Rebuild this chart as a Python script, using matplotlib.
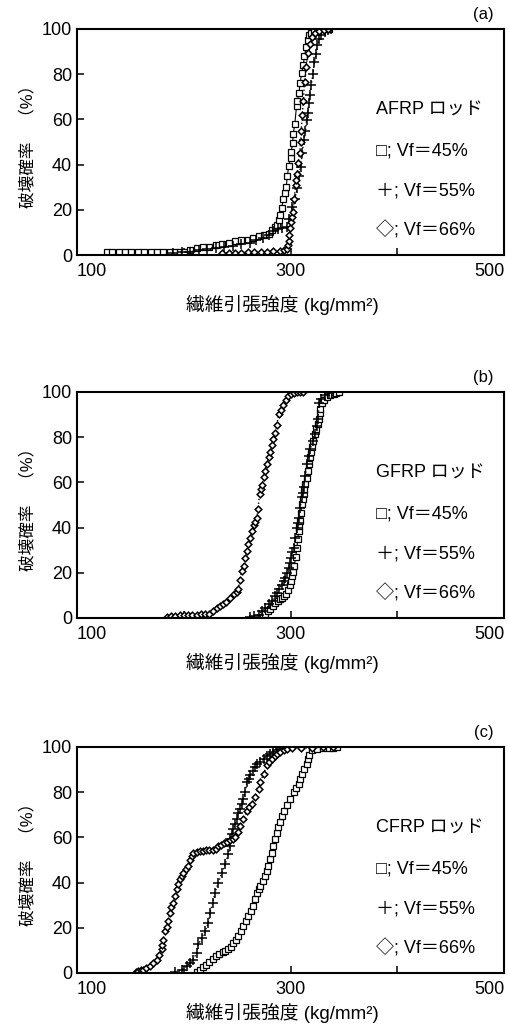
import matplotlib
matplotlib.use('Agg')
import matplotlib.pyplot as plt

plt.rcParams['font.family'] = ['Liberation Sans', 'Noto Sans CJK JP']

# panel (a) AFRP
a45_x = [128, 133, 139, 145, 151, 157, 163, 169, 175, 181, 187, 192, 196, 200,
         206, 212, 218, 224, 230, 236, 242, 248, 254, 260, 265, 270, 275, 280,
         283, 285, 287.6, 289, 290, 292, 293, 294.7, 296, 297, 298.4, 300, 300.6,
         302, 302.5, 304, 305.6, 306.5, 307.8, 309, 310.3, 312, 313, 314.7, 316,
         317, 319, 322, 326, 330, 336]
a45_y = [1.5, 1.5, 1.5, 1.5, 1.5, 1.5, 1.5, 1.5, 1.5, 1.5, 1.5, 1.5, 1.5, 1.5,
         2.2, 3.0, 3.5, 3.7, 4.5, 5.0, 5.2, 6.0, 6.5, 6.8, 7.5, 8.2, 8.8, 9.5,
         11.0, 12.5, 13.3, 15.5, 17.7, 21, 25, 27.3, 30.2, 35, 39.5, 43, 45.7,
         49.5, 53.4, 58, 65.9, 68, 71.8, 76, 80.4, 84, 88, 92.2, 95,
         97.3, 98.3, 99, 99.5, 99.8, 100]
a55_x = [190, 198, 206, 214, 222, 230, 238, 246, 254, 262, 268, 274, 280, 284,
         288, 292, 296.9, 299, 301.6, 304, 306.3, 308, 309.4, 311, 312.4, 314,
         315, 316, 317.1, 318, 319.3, 321, 322.4, 324, 325, 327, 329, 332, 335, 338]
a55_y = [1.0, 1.2, 1.5, 2.0, 2.5, 3.0, 3.5, 4.0, 4.8, 5.5, 6.5, 7.5, 9, 10.5,
         11.5, 12, 12.5, 16, 21.4, 25, 29.5, 35, 39.1, 45, 50.9, 55,
         59.7, 63, 67.1, 71, 75.2, 80, 85.5, 89, 92.9, 95.5, 97.5, 98.8, 99.5, 100]
a66_x = [236, 242, 248, 254, 260, 266, 272, 278, 284, 290, 294, 297, 297.5, 298.4,
         299, 299.4, 300.6, 301, 302.5, 303.5, 304.7, 305.5, 306.3, 307, 308.7,
         309.5, 310, 311, 312, 313.1, 314.5, 316.2, 318, 320, 323, 327, 331, 335]
a66_y = [0.8, 1.0, 1.0, 1.1, 1.2, 1.3, 1.4, 1.5, 1.6, 1.8, 2.0, 2.8, 4.4, 6,
         9, 12, 14.8, 17, 19.2, 25, 31, 33, 36, 40.6, 45,
         50, 55, 62, 68, 76.7, 83, 89.2, 93.5, 96.5, 98.2, 99, 99.6, 100]

# panel (b) GFRP
b45_x = [274, 276.3, 278.5, 281, 283.5, 285.7, 288, 290, 292, 294, 296, 297.5,
         299.1, 300.2, 301.3, 302.5, 303.5, 304.8, 306, 306.8, 307.5, 308, 308.5,
         309.6, 310.7, 311.5, 312.2, 313, 313.8, 315, 316, 317, 317.9, 319, 320.1,
         321.5, 323, 324.1, 325.3, 326.3, 327.2, 327.9, 329.5, 331, 334.2, 337,
         340.4, 343, 345]
b45_y = [0.5, 1.8, 3.0, 4.1, 5.5, 6.7, 7.5, 8.2, 8.9, 9.8, 10.7, 12.5,
         14.8, 16.5, 18.5, 20.5, 22.9, 27, 31.1, 35, 38.5, 40.5, 42.9,
         46.5, 50.4, 52.5, 54.8, 57, 59.2, 62, 65.2, 68, 71.1, 73.5, 75.6,
         78.5, 81.5, 83.7, 86, 88.1, 90.5, 92.6, 95, 96.5, 97.8, 98.6,
         99.3, 99.7, 100]
b55_x = [262, 266, 270, 273, 276.3, 279.5, 282.5, 285, 287.2, 289.5, 292, 293.5,
         295, 296.5, 298.1, 299.2, 300.3, 301.5, 302.8, 304.4, 306, 306.8, 307.5,
         309, 310.7, 311.5, 312.2, 313.8, 315.4, 316.9, 318.5, 320.8, 323.2, 324.5,
         325.5, 327, 329, 332, 336, 340]
b55_y = [0.5, 1.0, 1.5, 3.0, 4.4, 6.0, 7.4, 9.5, 11.1, 13, 14.8, 16.3,
         17.8, 20, 22.2, 24.5, 26.7, 29, 31.1, 35.5, 40, 42.2, 44.4,
         48.8, 53.3, 55.5, 57.8, 63, 68.1, 71.5, 74.8, 78.2, 81.5, 85,
         88, 95, 97, 98.5, 99.4, 100]
b66_x = [184, 188, 192, 196, 200, 204, 208, 212, 216, 220, 224, 227.7, 231, 234,
         237, 240, 243.4, 247, 249.5, 251.2, 252.4, 254.4, 256, 257.5, 259, 260.6,
         262, 263.7, 265.5, 266.5, 268.5, 269.5, 271, 272.2, 273.4, 274.7, 276,
         277.8, 279.6, 281, 282.8, 284, 285.5, 287.2, 288.8, 290.6, 293, 295.5,
         297.5, 300, 303, 306, 309, 312]
b66_y = [0.5, 0.8, 1.0, 1.1, 1.2, 1.3, 1.4, 1.5, 1.6, 1.7, 1.8, 2.9, 4.2, 5.2,
         6.0, 7.2, 8.9, 10.5, 11.5, 12.6, 16.7, 20.7, 23, 26.7, 29.5, 32.6,
         35.5, 38.5, 41, 42.3, 44.4, 48, 54.8, 57, 59, 62.2, 65,
         68.1, 71.1, 73.3, 76.5, 79.2, 82, 85.2, 90.4, 91.8, 94.1, 96.5,
         98.2, 99.2, 99.6, 99.8, 100, 100]

# panel (c) CFRP
c45_x = [212, 215.2, 218, 220.8, 224, 227, 230, 233, 236.5, 239, 241.8, 244,
         246.5, 249, 251.2, 253.5, 255.9, 258, 260.6, 263, 265.3, 266.8, 268.5,
         270, 271.6, 274, 276.2, 277.8, 279.3, 281, 282.5, 284, 285.6, 287.2,
         288.7, 290.3, 291.9, 294.2, 296.6, 299.7, 302.8, 305.2, 307.5, 309,
         310.7, 313, 315.4, 316.2, 316.9, 320, 325, 330, 336, 340, 343.6]
c45_y = [0.5, 1.5, 2.6, 3.7, 4.9, 6.0, 7.4, 8.2, 9.2, 9.8, 10.4, 11.7,
         13.3, 14.8, 16.3, 18.5, 20.7, 22.8, 25.2, 27.4, 29.6, 32.6, 35.6,
         37, 38.5, 40.7, 42.9, 45.2, 47.4, 50.5, 53.3, 56.3, 59.3, 61.8,
         64.4, 67, 69.6, 71.8, 74.1, 77.1, 80, 81.8, 83.7, 86,
         88.1, 90.4, 92.6, 94.5, 96.3, 98.5, 99.2, 99.4, 99.6, 99.7, 100]
c55_x = [192, 198, 202.7, 206, 208.9, 212.1, 213.6, 216.8, 219.9, 223, 224.6,
         227.1, 229.3, 232.4, 235.6, 238.7, 241.8, 243, 243.4, 245, 246.5, 248,
         249.7, 251.2, 252.8, 254.4, 255.9, 257.5, 259.1, 260.7, 262.2, 264.5,
         266.9, 269, 271.6, 274.7, 278, 281, 284, 287, 290.3, 294, 298]
c55_y = [0.5, 1.5, 2.9, 4.4, 5.9, 8.9, 12.6, 15.6, 18.5, 22.2, 26.7,
         31.1, 35.6, 40, 44.4, 48.1, 52.6, 56, 59.3, 61.5, 63.7, 66,
         68.1, 71, 72.6, 74.8, 77, 80, 84.4, 86, 87.4, 89.3,
         91.1, 92.3, 93.3, 94.8, 96.1, 97.1, 97.8, 98.6, 99.3, 99.6, 100]
c66_x = [155, 157.3, 160, 162, 165, 168.3, 171.5, 174.6, 177, 179.3, 180, 180.8,
         182.4, 184, 185.5, 187, 188.5, 190.1, 191.7, 193.3, 195, 196.4, 198,
         199.5, 202, 204.2, 206, 207.4, 209, 212, 215, 218, 221, 224, 227, 230,
         232.5, 235, 238, 240.6, 243.4, 246, 248, 250.5, 252.8, 255.9, 259.1,
         261, 263.8, 266.9, 270, 271.6, 274.7, 277.8, 280, 282.5, 285, 287.2,
         290, 293.5, 297, 301, 310, 320, 330, 340]
c66_y = [0.3, 0.8, 1.2, 1.5, 2.2, 2.9, 4.4, 5.9, 8.0, 10.4, 12.5, 14.8,
         18.5, 20.5, 22.9, 26.7, 29, 31.1, 34, 37, 39.5, 41.5, 43,
         44.4, 46, 47.4, 50, 51.8, 53.3, 53.6, 53.8, 54.0, 54.2, 54.4, 54.6, 55.0,
         56.3, 56.8, 57.3, 57.8, 58.8, 59.3, 60, 62.5, 65.2, 68.1, 71.8,
         73.5, 74.8, 77.8, 81.5, 84.4, 88.1, 91.8, 93.5, 94.8, 96, 97,
         97.8, 98.5, 99, 99.4, 99.6, 99.7, 99.8, 99.9]

panels = [
    ('(a)', 'AFRP ロッド', (a45_x, a45_y), (a55_x, a55_y), (a66_x, a66_y), 0.7529, 50),
    ('(b)', 'GFRP ロッド', (b45_x, b45_y), (b55_x, b55_y), (b66_x, b66_y), 0.4012, 45),
    ('(c)', 'CFRP ロッド', (c45_x, c45_y), (c55_x, c55_y), (c66_x, c66_y), 0.0572, 40),
]
legend_lines = ['□; Vf＝45%', '＋; Vf＝55%', '◇; Vf＝66%']

fig = plt.figure(figsize=(5.09, 10.32), dpi=100)

for tag, title, s45, s55, s66, bottom, xlab_off in panels:
    ax = fig.add_axes([0.1513, bottom, 0.839, 0.219])

    # Vf=45% squares, solid line
    ax.plot(s45[0], s45[1], '-', color='black', lw=0.8,
            marker='s', ms=5, mfc='white', mec='black', mew=0.9)
    # Vf=55% plus, dotted line
    ax.plot(s55[0], s55[1], ':', color='black', lw=1.0,
            marker='+', ms=7, mec='black', mew=1.1)
    # Vf=66% diamonds, dotted line
    ax.plot(s66[0], s66[1], ':', color='black', lw=1.0,
            marker='D', ms=3.4, mfc='white', mec='black', mew=1.1)

    ax.set_xlim(100, 500)
    ax.set_ylim(0, 100)
    ax.set_xticks([100, 300, 500])
    ax.set_xticks([200, 400], minor=True)
    ax.set_yticks([0, 20, 40, 60, 80, 100])
    ax.tick_params(axis='both', which='both', direction='in', labelsize=13,
                   top=False, right=False, length=5, width=1.1)
    ax.tick_params(axis='x', pad=6)
    xl = ax.get_xticklabels()
    xl[0].set_ha('left')
    xl[-1].set_ha('right')
    for sp in ax.spines.values():
        sp.set_linewidth(1.5)

    ax.set_ylabel('破壊確率　（%）', fontsize=12, labelpad=5)
    ax.text(0.48, -xlab_off / 226, '繊維引張強度 (kg/mm²)', transform=ax.transAxes,
            ha='center', va='center', fontsize=13.5)
    ax.text(0.975, 1.065, tag, transform=ax.transAxes, ha='right', va='center',
            fontsize=12)

    ax.text(0.70, 0.64, title, transform=ax.transAxes, ha='left', va='center',
            fontsize=13)
    for yy, txt in zip([0.462, 0.285, 0.11], legend_lines):
        ax.text(0.70, yy, txt, transform=ax.transAxes, ha='left', va='center',
                fontsize=13)

fig.savefig('out.png', dpi=100)
